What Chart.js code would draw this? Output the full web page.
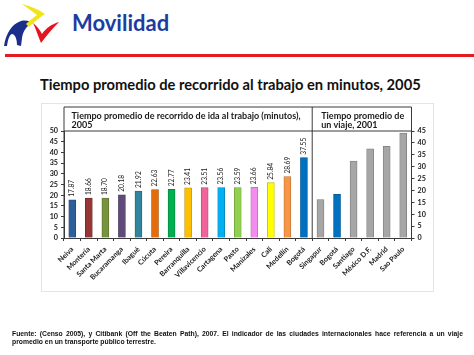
<!DOCTYPE html>
<html>
<head>
<meta charset="utf-8">
<script src="https://cdn.jsdelivr.net/npm/chart.js@4.4.1/dist/chart.umd.min.js"></script>
<style>
  html,body{margin:0;padding:0;background:#fff;}
  body{width:474px;height:355px;position:relative;overflow:hidden;}
  #title{position:absolute;left:72px;top:12px;font:bold 22px/22px Lato,sans-serif;color:#1d3c9f;white-space:nowrap;}
  #redline{position:absolute;left:5px;right:0;top:54px;height:2.5px;background:#e31b23;}
  #subtitle{position:absolute;left:40px;top:77px;font:bold 14.7px/15px Lato,sans-serif;color:#111;white-space:nowrap;}
  #box{position:absolute;left:41px;top:103px;width:391px;height:187px;border:1px solid #e4e4e4;}
  #c{position:absolute;left:0;top:0;}
  .foot{position:absolute;left:12px;width:451px;font:bold 6.8px/8px "Liberation Sans",Arial,sans-serif;color:#111;white-space:nowrap;}
  #f1{top:330px;text-align:justify;text-align-last:justify;}
  #f2{top:338px;}
</style>
</head>
<body>
<svg style="position:absolute;left:0;top:0" width="64" height="50" viewBox="0 0 64 50">
  <path d="M4,46 C6,33 12,24 21,21 C26,20 30,21 33,23 C27,25 23,31 22,38 L21,46 L17,45 C17,39 15,34 12,34 C9,35 8,40 7,46 Z" fill="#1c2e8c"/>
  <path d="M22,4 C30,6 38,9 45,14 C39,18 34,22 29,27 L26,24 C29,21 33,18 37,15 C32,11 27,8 22,4 Z" fill="#f2e41a"/>
  <path d="M33,23 C36,29 38,36 41,43 C47,35 53,28 59,22 C52,24 46,28 42,34 C40,30 37,26 33,23 Z" fill="#e3161f"/>
</svg>
<div id="title">Movilidad</div>
<div id="redline"></div>
<div id="subtitle">Tiempo promedio de recorrido al trabajo en minutos, 2005</div>
<div id="box"></div>
<canvas id="c" width="474" height="355"></canvas>
<div class="foot" id="f1">Fuente: (Censo 2005), y Citibank (Off the Beaten Path), 2007. El indicador de las ciudades internacionales hace referencia a un viaje</div>
<div class="foot" id="f2">promedio en un transporte público terrestre.</div>
<script>
// ---- data ----
const colCities = ['Neiva','Montería','Santa Marta','Bucaramanga','Ibagué','Cúcuta','Pereira','Barranquilla','Villavicencio','Cartagena','Pasto','Manizales','Cali','Medellín','Bogotá'];
const colValues = [17.87,18.66,18.70,20.18,21.92,22.63,22.77,23.41,23.51,23.56,23.59,23.66,25.84,28.69,37.55];
const intCities = ['Singapur','Bogotá','Santiago','México D.F.','Madrid','Sao Paulo'];
const intValues = [16.2,18.4,32.4,37.5,38.6,44.1];
const leftTicks = [0,5,10,15,20,25,30,35,40,45,50];
const rightTicks = [0,5,10,15,20,25,30,35,40,45];
const panelTitleLeft = ['Tiempo promedio de recorrido de ida al trabajo (minutos),','2005'];
const panelTitleRight = ['Tiempo promedio de','un viaje, 2001'];

// ---- styles ----
const colColors = ['#2f5f98','#953735','#77933c','#604a7b','#31859c','#e46c0a','#00b050','#ffc000','#f0649b','#00b0f0','#92d050','#f48cee','#ffff00','#f79646','#0070c0'];
const intColors = ['#a6a6a6','#0070c0','#a6a6a6','#a6a6a6','#a6a6a6','#a6a6a6'];
function darker(hex){const n=parseInt(hex.slice(1),16);let r=n>>16,g=(n>>8)&255,b=n&255;r=Math.round(r*0.75);g=Math.round(g*0.75);b=Math.round(b*0.75);return 'rgb('+r+','+g+','+b+')';}

const labels = colCities.concat(intCities);
const nL = colCities.length, nR = intCities.length;
const dataLeft = colValues.concat(new Array(nR).fill(null));
const dataRight = new Array(nL).fill(null).concat(intValues);
const bgLeft = colColors.concat(new Array(nR).fill('#000'));
const bgRight = new Array(nL).fill('#000').concat(intColors);

const LINE = '#3a3a3a';
const tickFont = {family:'Lato', size:7.2, weight:'bold'};

const framePlugin = {
  id:'frame',
  afterDraw(chart){
    const {ctx, chartArea:a, scales} = chart;
    const x = scales.x;
    const headTop = a.top - 24;
    const divX = (x.getPixelForValue(nL-1) + x.getPixelForValue(nL))/2;
    ctx.save();
    ctx.strokeStyle = LINE; ctx.lineWidth = 1;
    ctx.beginPath();
    ctx.moveTo(a.left, a.bottom); ctx.lineTo(a.left, headTop); ctx.lineTo(a.right, headTop); ctx.lineTo(a.right, a.bottom);
    ctx.moveTo(a.left, a.top); ctx.lineTo(a.right, a.top);
    ctx.moveTo(divX, headTop); ctx.lineTo(divX, a.bottom);
    ctx.stroke();
    // panel titles
    ctx.fillStyle = '#1a1a1a';
    ctx.font = 'bold 9px Lato';
    ctx.textAlign = 'left'; ctx.textBaseline = 'alphabetic';
    panelTitleLeft.forEach((t,i)=>ctx.fillText(t, a.left+7.5, headTop+11.5+i*9.8));
    panelTitleRight.forEach((t,i)=>ctx.fillText(t, divX+9, headTop+11.5+i*9.8));
    // value labels
    const meta = chart.getDatasetMeta(0);
    ctx.font = '6.6px Lato';
    ctx.fillStyle = '#1a1a1a';
    ctx.textBaseline = 'middle';
    meta.data.forEach((bar,i)=>{
      const v = dataLeft[i];
      if(v===null) return;
      ctx.save();
      ctx.translate(bar.x, bar.y - 3);
      ctx.rotate(-Math.PI/2);
      ctx.textAlign = 'left';
      ctx.fillText(v.toFixed(2), 0, 0);
      ctx.restore();
    });
    ctx.restore();
  }
};

new Chart(document.getElementById('c'), {
  type:'bar',
  data:{
    labels: labels,
    datasets:[
      {data:dataLeft, yAxisID:'y', backgroundColor:bgLeft, borderColor:bgLeft.map(darker), borderWidth:0.8, barThickness:7, grouped:false},
      {data:dataRight, yAxisID:'y2', backgroundColor:bgRight, borderColor:bgRight.map(darker), borderWidth:0.8, barThickness:7, grouped:false}
    ]
  },
  options:{
    responsive:false, animation:false, devicePixelRatio:1,
    layout:{padding:{top:131, left:0, right:0, bottom:0}},
    plugins:{legend:{display:false}, tooltip:{enabled:false}},
    scales:{
      x:{
        grid:{offset:true, drawOnChartArea:false, tickLength:3, color:LINE},
        border:{color:LINE},
        ticks:{maxRotation:45, minRotation:45, autoSkip:false, font:tickFont, color:'#1a1a1a', padding:4},
        afterFit(s){ s.height = 117; }
      },
      y:{
        position:'left', min:0, max:50,
        afterBuildTicks(s){ s.ticks = leftTicks.map(v=>({value:v})); },
        grid:{drawOnChartArea:false, tickLength:3, color:LINE},
        border:{color:LINE},
        ticks:{font:tickFont, color:'#1a1a1a', padding:3, autoSkip:false},
        afterFit(s){ s.width = 64; }
      },
      y2:{
        position:'right', min:0, max:45,
        afterBuildTicks(s){ s.ticks = rightTicks.map(v=>({value:v})); },
        grid:{drawOnChartArea:false, tickLength:3, color:LINE},
        border:{color:LINE},
        ticks:{font:tickFont, color:'#1a1a1a', padding:3, autoSkip:false},
        afterFit(s){ s.width = 62.5; }
      }
    }
  },
  plugins:[framePlugin]
});
</script>
</body>
</html>
